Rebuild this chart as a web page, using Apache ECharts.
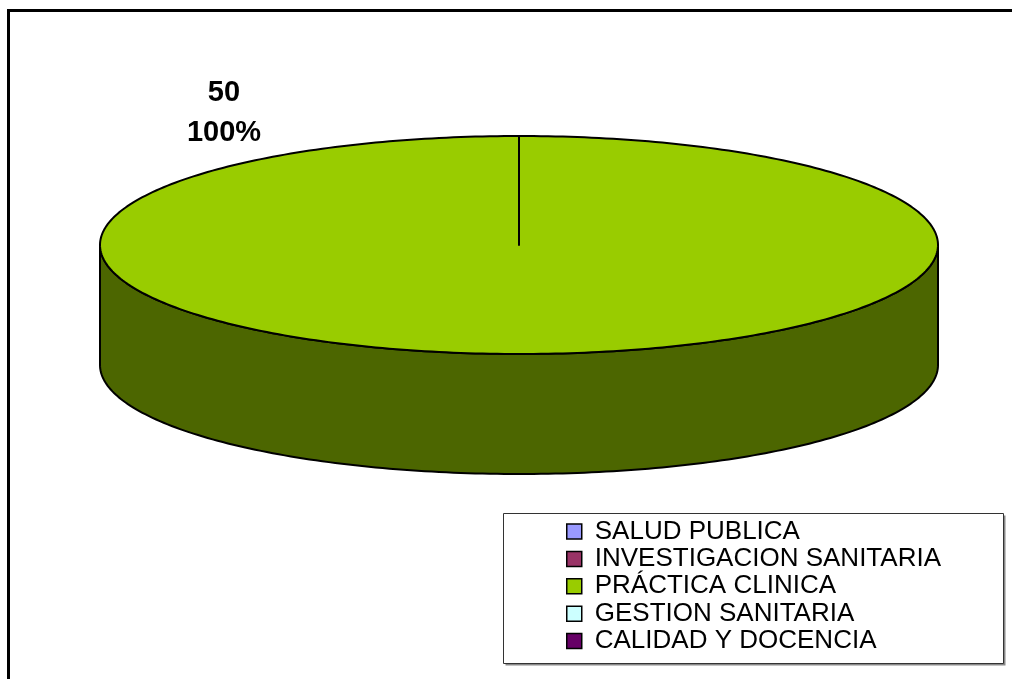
<!DOCTYPE html>
<html>
<head>
<meta charset="utf-8">
<script src="https://cdn.jsdelivr.net/npm/echarts@6/dist/echarts.min.js"></script>
<style>
html,body{margin:0;padding:0;background:#fff;}
#chart{width:1012px;height:679px;}
</style>
</head>
<body>
<div id="chart"></div>
<script>
const categories = ['SALUD PUBLICA', 'INVESTIGACION SANITARIA', 'PRÁCTICA CLINICA', 'GESTION SANITARIA', 'CALIDAD Y DOCENCIA'];
const values = [0, 0, 50, 0, 0];
const topColors = ['#9999FF', '#993366', '#99CC00', '#CCFFFF', '#660066'];
const sideColors = ['#4C4C80', '#4C1933', '#4C6600', '#668080', '#330033'];

const PIE = { cx: 519, cy: 245, rx: 419, ry: 109, depth: 120 };
const FONT = '"Liberation Sans", Arial, sans-serif';
const total = values.reduce((a, b) => a + b, 0);

function ellPts(a0, a1, dy) {
  const pts = [];
  const n = Math.max(8, Math.ceil(Math.abs(a1 - a0) / (Math.PI * 2) * 360));
  for (let i = 0; i <= n; i++) {
    const a = a0 + (a1 - a0) * i / n;
    pts.push([PIE.cx + PIE.rx * Math.cos(a), PIE.cy + PIE.ry * Math.sin(a) + dy]);
  }
  return pts;
}

function makeRender(idx) {
  return function (params, api) {
    const v = api.value(0);
    if (!v) return null;
    let before = 0;
    for (let k = 0; k < idx; k++) before += values[k];
    const a0 = -Math.PI / 2 + before / total * 2 * Math.PI;
    const a1 = a0 + v / total * 2 * Math.PI;
    const children = [];
    // front side wall
    const s = Math.max(a0, 0), e = Math.min(a1, Math.PI);
    if (s < e) {
      const topEdge = ellPts(s, e, 0);
      const botEdge = ellPts(e, s, PIE.depth);
      children.push({
        type: 'polygon',
        shape: { points: topEdge.concat(botEdge) },
        style: { fill: sideColors[idx], stroke: '#000', lineWidth: 2, lineJoin: 'round' }
      });
    }
    // top face
    const topPts = [[PIE.cx, PIE.cy]].concat(ellPts(a0, a1, 0));
    children.push({
      type: 'polygon',
      shape: { points: topPts },
      style: { fill: topColors[idx], stroke: '#000', lineWidth: 2, lineJoin: 'round' }
    });
    // data label
    const pct = Math.round(v / total * 100) + '%';
    children.push({
      type: 'text',
      x: PIE.cx - 295,
      y: PIE.cy - 132,
      style: {
        text: v + '\n' + pct,
        font: 'bold 29px ' + FONT,
        fill: '#000',
        align: 'center',
        verticalAlign: 'middle',
        lineHeight: 40
      }
    });
    return { type: 'group', children: children };
  };
}

const series = categories.map((name, i) => ({
  type: 'custom',
  name: name,
  coordinateSystem: 'none',
  renderItem: makeRender(i),
  itemStyle: { color: topColors[i], borderColor: '#000', borderWidth: 1.5 },
  data: [[values[i]]],
  silent: true
}));

const chart = echarts.init(document.getElementById('chart'), null, { renderer: 'canvas' });
chart.setOption({
  animation: false,
  backgroundColor: '#fff',
  graphic: [
    { type: 'rect', shape: { x: 8.5, y: 10.5, width: 1010, height: 680 },
      style: { fill: 'none', stroke: '#000', lineWidth: 3 }, z: 100 },
    { type: 'rect', shape: { x: 505.5, y: 515.5, width: 500, height: 150 },
      style: { fill: '#888' }, z: -2 },
    { type: 'rect', shape: { x: 503.5, y: 513.5, width: 500, height: 150 },
      style: { fill: '#fff', stroke: '#333', lineWidth: 1 }, z: -1 }
  ],
  legend: {
    orient: 'vertical',
    left: 566,
    top: 518.5,
    padding: 0,
    itemWidth: 15,
    itemHeight: 15,
    itemGap: 1.4,
    icon: 'rect',
    selectedMode: false,
    itemStyle: { borderColor: '#000', borderWidth: 1.5 },
    textStyle: { fontFamily: FONT, fontSize: 26, color: '#000', lineHeight: 26, padding: [0, 0, 0, 8] },
    data: categories
  },
  series: series
});
</script>
</body>
</html>
